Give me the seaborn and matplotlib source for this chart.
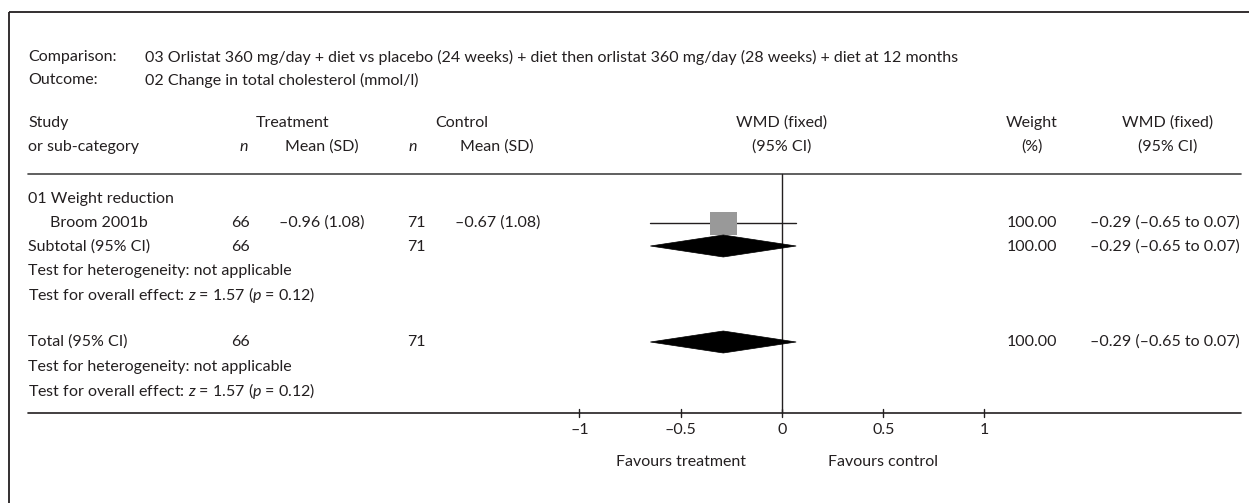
import matplotlib
matplotlib.use("Agg")
import matplotlib.pyplot as plt
from matplotlib.patches import Rectangle, Polygon
import seaborn as sns
import pandas as pd

# ---- data -------------------------------------------------------------
comparison = ("03 Orlistat 360 mg/day + diet vs placebo (24 weeks) + diet then "
              "orlistat 360 mg/day (28 weeks) + diet at 12 months")
outcome = "02 Change in total cholesterol (mmol/l)"
subgroup = "01 Weight reduction"

studies = ["Broom 2001b"]
treat_n = [66]
treat_mean = [-0.96]
treat_sd = [1.08]
ctrl_n = [71]
ctrl_mean = [-0.67]
ctrl_sd = [1.08]
wmd = [-0.29]
ci_low = [-0.65]
ci_high = [0.07]
weights = [100.00]

subtotal_n = [66, 71]
subtotal_est = [-0.29, -0.65, 0.07]
subtotal_weight = 100.00
total_n = [66, 71]
total_est = [-0.29, -0.65, 0.07]
total_weight = 100.00

heterogeneity = "not applicable"
z_value = 1.57
p_value = 0.12

axis_ticks = [-1, -0.5, 0, 0.5, 1]
axis_ticklabels = ["\u20131", "\u20130.5", "0", "0.5", "1"]
favours = ["Favours treatment", "Favours control"]

# ---- style ------------------------------------------------------------
sns.set_theme(style="white")
plt.rcParams["font.family"] = ["Lato", "DejaVu Sans"]
plt.rcParams["mathtext.fontset"] = "custom"
plt.rcParams["mathtext.rm"] = "Lato"
plt.rcParams["mathtext.it"] = "Lato:italic"

INK = "#231f20"
FS = 11.5
W, H = 1249, 503

fig = plt.figure(figsize=(W / 100, H / 100), dpi=100)
ax = fig.add_axes([0, 0, 1, 1])

# x axis: effect size (WMD); zero sits at 782 px, one unit spans 202.5 px
X0, SCALE = 782.0, 202.5
ax.set_xlim((0 - X0) / SCALE, (W - X0) / SCALE)
# y axis: vertical layout position, top to bottom
ax.set_ylim(H, 0)
ax.axis("off")


def px(x):
    """horizontal layout position -> effect-size axis units"""
    return (x - X0) / SCALE


def fmt(v, nd=2):
    s = f"{v:.{nd}f}"
    return s.replace("-", "\u2013")


def txt(x, y, s, ha="left", **kw):
    ax.text(px(x), y, s, ha=ha, va="center", fontsize=FS, color=INK, **kw)


def ci_text(est, lo, hi):
    return f"{fmt(est)} ({fmt(lo)} to {fmt(hi)})"


# frame and rules
ax.plot([px(9), px(W)], [12, 12], color=INK, lw=1.3, solid_capstyle="butt")
ax.plot([px(9), px(9)], [12, H], color=INK, lw=1.3, solid_capstyle="butt")
ax.plot([px(28), px(1241)], [174, 174], color="#444444", lw=1.2)
ax.plot([px(28), px(1241)], [413, 413], color=INK, lw=1.2)
ax.plot([0, 0], [174, 413], color=INK, lw=1.0)

# headings
txt(28, 57, "Comparison:")
txt(145, 57, comparison)
txt(28, 80, "Outcome:")
txt(145, 80, outcome)

row_h1, row_h2 = 123, 147
txt(28, row_h1, "Study")
txt(28, row_h2, "or sub-category")
txt(293, row_h1, "Treatment", ha="center")
txt(462, row_h1, "Control", ha="center")
txt(244, row_h2, "n", ha="center", style="italic")
txt(322, row_h2, "Mean (SD)", ha="center")
txt(413, row_h2, "n", ha="center", style="italic")
txt(497, row_h2, "Mean (SD)", ha="center")
txt(782, row_h1, "WMD (fixed)", ha="center")
txt(782, row_h2, "(95% CI)", ha="center")
txt(1032, row_h1, "Weight", ha="center")
txt(1032, row_h2, "(%)", ha="center")
txt(1168, row_h1, "WMD (fixed)", ha="center")
txt(1168, row_h2, "(95% CI)", ha="center")

# subgroup and study rows
txt(28, 199, subgroup)
study_rows = [223]
for i, y in enumerate(study_rows):
    txt(50, y, studies[i])
    txt(241, y, f"{treat_n[i]}", ha="center")
    txt(322, y, f"{fmt(treat_mean[i])} ({fmt(treat_sd[i])})", ha="center")
    txt(416, y, f"{ctrl_n[i]}", ha="center")
    txt(498, y, f"{fmt(ctrl_mean[i])} ({fmt(ctrl_sd[i])})", ha="center")
    txt(1032, y, f"{weights[i]:.2f}", ha="center")
    txt(1240, y, ci_text(wmd[i], ci_low[i], ci_high[i]), ha="right")

# confidence interval lines
ci_df = pd.DataFrame({
    "x": [v for lo, hi in zip(ci_low, ci_high) for v in (lo, hi)],
    "y": [y for y in study_rows for _ in (0, 1)],
    "study": [s for s in studies for _ in (0, 1)],
})
sns.lineplot(data=ci_df, x="x", y="y", units="study", estimator=None,
             color=INK, lw=1.0, ax=ax, legend=False)

# weighted squares
for i, y in enumerate(study_rows):
    w = 27 / SCALE * (weights[i] / 100.0)
    h = 23 * (weights[i] / 100.0)
    ax.add_patch(Rectangle((wmd[i] - w / 2, y - h / 2), w, h,
                           facecolor="#999999", edgecolor="none", zorder=3))


def diamond(est, lo, hi, y, half=11):
    ax.add_patch(Polygon([(lo, y), (est, y - half), (hi, y), (est, y + half)],
                         closed=True, facecolor="black", edgecolor="black",
                         lw=0.5, zorder=4))


test_eff = f"Test for overall effect: $z$ = {z_value:.2f} ($p$ = {p_value:.2f})"

# subtotal block
y_sub = 247
txt(28, y_sub, "Subtotal (95% CI)")
txt(241, y_sub, f"{subtotal_n[0]}", ha="center")
txt(416, y_sub, f"{subtotal_n[1]}", ha="center")
txt(1032, y_sub, f"{subtotal_weight:.2f}", ha="center")
txt(1240, y_sub, ci_text(*subtotal_est), ha="right")
diamond(*subtotal_est, y_sub - 1)
txt(28, 271, f"Test for heterogeneity: {heterogeneity}")
txt(28, 295, test_eff)

# total block
y_tot = 342
txt(28, y_tot, "Total (95% CI)")
txt(241, y_tot, f"{total_n[0]}", ha="center")
txt(416, y_tot, f"{total_n[1]}", ha="center")
txt(1032, y_tot, f"{total_weight:.2f}", ha="center")
txt(1240, y_tot, ci_text(*total_est), ha="right")
diamond(*total_est, y_tot)
txt(28, 367, f"Test for heterogeneity: {heterogeneity}")
txt(28, 391, test_eff)

# effect-size scale
for t, lab in zip(axis_ticks, axis_ticklabels):
    ax.plot([t, t], [409, 417], color=INK, lw=1.0)
    ax.text(t, 430, lab, ha="center", va="center", fontsize=FS, color=INK)
ax.text(-0.5, 462, favours[0], ha="center", va="center", fontsize=FS, color=INK)
ax.text(0.5, 462, favours[1], ha="center", va="center", fontsize=FS, color=INK)

fig.savefig("out.png", dpi=100, facecolor="white")
